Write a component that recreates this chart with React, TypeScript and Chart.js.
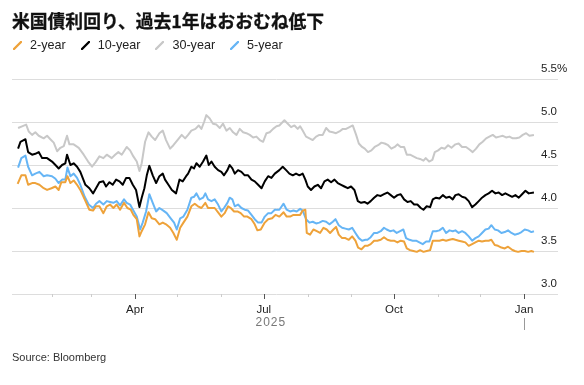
import React, { useEffect, useRef } from 'react';
import { Chart, registerables } from 'chart.js';

Chart.register(...registerables);

const titleText = '米国債利回り、過去1年はおおむね低下';
const sourceText = 'Source: Bloomberg';
const yearLabel = '2025';

const seriesNames = ['2-year', '10-year', '30-year', '5-year'];
const seriesColors = ['#EEA23A', '#000000', '#C8C8C8', '#66B5F5'];

// x axis: days since 2025-01-01
const monthTickDays = [31, 59, 90, 120, 151, 181, 212, 243, 273, 304, 334, 365];
const monthTickLabels = ['', '', 'Apr', '', '', 'Jul', '', '', 'Oct', '', '', 'Jan'];
const yearEndDay = 365;
const yTickValues = [3.0, 3.5, 4.0, 4.5, 5.0, 5.5];

const twoYearDays = [7, 9.6, 12.5, 14.4, 17.2, 19.5, 22.4, 25.4, 27.8, 30.9, 33.7, 36, 37.9, 40.7, 42.2, 44.3, 46.6, 49, 51.3, 54.4, 57.7, 60.3, 62.4, 64.8,
  67.6, 70, 72.3, 74.7, 77, 79.4, 82.2, 84.6, 87, 88.8, 91.2, 93.1, 94.7, 97.1, 99.5, 101.8, 104.2, 107.2, 109.6, 111.9, 114.8, 117.1, 119.5, 121.9, 124.2, 127,
  129.8, 132.2, 134.5, 136.9, 139.7, 141.6, 144, 146.3, 148.7, 151, 153.4, 155.8, 157.7, 160, 162.4, 164.7, 167.1, 169.4, 172.3, 174.6, 176.5, 178.9, 181.7, 184.1, 186.9, 189.3,
  192, 195, 197.2, 199.6, 202, 204.3, 206.7, 208.5, 210.4, 211.4, 213.7, 216.1, 218.5, 220.8, 223.2, 225.5, 227.9, 230.2, 232.1, 234, 236.4, 238.7, 241.1, 243.5, 245.8, 247.7, 250.1, 252.4,
  254.3, 256.6, 259, 261.3, 263.7, 266, 268.4, 270.8, 273.1, 275.5, 277.8, 280.2, 282.1, 284.4, 286.8, 289.2, 291.5, 293.9, 296.2, 298.6, 300.5, 302.8, 305.2, 307.6, 309.9, 312.3, 314.6,
  316.5, 318.8, 321.2, 323.5, 325.9, 328.3, 330.6, 333, 335.3, 337.7, 340, 341.9, 344.3, 346.6, 349, 351.4, 353.7, 356.1, 358.4, 360.8, 363.2, 365.5, 367.9, 370.2, 372];
const twoYearVals = [4.28, 4.38, 4.38, 4.27, 4.29, 4.29, 4.27, 4.23, 4.21, 4.23, 4.25, 4.21, 4.30, 4.30, 4.37, 4.29, 4.32, 4.27, 4.21, 4.10, 3.98, 3.97, 4.02, 4.02,
  3.94, 4.02, 4.04, 4.00, 4.04, 3.98, 4.06, 4.00, 3.98, 3.92, 3.87, 3.67, 3.73, 3.81, 3.95, 3.88, 3.87, 3.81, 3.83, 3.81, 3.77, 3.71, 3.63, 3.77, 3.83, 3.90,
  4.02, 4.05, 4.02, 4.00, 4.06, 4.00, 4.00, 4.00, 3.95, 3.90, 3.94, 4.02, 4.00, 3.96, 3.96, 3.94, 3.90, 3.90, 3.87, 3.81, 3.74, 3.75, 3.83, 3.87, 3.88, 3.92,
  3.90, 3.95, 3.90, 3.90, 3.92, 3.92, 3.92, 3.97, 3.98, 3.71, 3.69, 3.75, 3.73, 3.71, 3.77, 3.75, 3.71, 3.75, 3.78, 3.69, 3.65, 3.65, 3.63, 3.67, 3.62, 3.54, 3.52, 3.56,
  3.56, 3.58, 3.62, 3.62, 3.63, 3.66, 3.63, 3.62, 3.62, 3.60, 3.62, 3.61, 3.53, 3.51, 3.50, 3.49, 3.51, 3.49, 3.50, 3.51, 3.62, 3.62, 3.62, 3.63, 3.62, 3.63, 3.64,
  3.63, 3.62, 3.61, 3.60, 3.56, 3.58, 3.60, 3.62, 3.61, 3.62, 3.62, 3.63, 3.57, 3.56, 3.54, 3.53, 3.55, 3.52, 3.50, 3.49, 3.50, 3.50, 3.49, 3.50, 3.49];

const tenYearDays = [7.3, 9, 12.5, 14.4, 17.2, 19.5, 21.9, 24.3, 27.8, 31.3, 33.7, 36, 38.4, 40.7, 41.9, 44.3, 46.6, 49, 51.3, 54.9, 57.7, 60.3, 62.4, 64.8,
  67.6, 69.5, 71.9, 74.2, 76.6, 79, 81.3, 83.7, 86, 88.4, 90.7, 93.1, 94.7, 96.6, 98.3, 100.1, 102.5, 104.9, 107.2, 109.6, 111.2, 113.6, 116, 119, 121.4, 123.7, 126.1,
  127.5, 129.8, 131.7, 133.4, 135.7, 138.1, 140.4, 142.1, 144, 146.3, 148.7, 151, 152.9, 155.3, 156.9, 158.8, 160.5, 162.8, 165.2, 167.5, 169.9, 172.3, 174.6, 177, 179.4, 181.7, 184.1, 186.4, 188.8,
  192, 194.4, 196.8, 199.1, 201.5, 203.8, 206.2, 208.5, 210.4, 212.1, 214.4, 216.8, 219.2, 221.5, 223.9, 226.2, 228.6, 231, 233.3, 235.7, 238, 240.4, 242.7, 245.1, 247.5, 249.8, 252.2,
  254.3, 256.6, 259, 261.3, 263.7, 266, 268.4, 270.8, 273.1, 275.5, 277.8, 280.2, 282.6, 284.9, 287.3, 289.6, 292, 293.9, 296.2, 298.6, 300.5, 302.8, 305.2, 307.6, 309.9, 312.3, 314.6,
  316.5, 318.8, 321.2, 323.5, 325.9, 328.3, 330.6, 333, 335.3, 337.7, 340, 342.4, 344.8, 347.1, 349.5, 351.8, 354.2, 356.6, 358.9, 361.3, 363.6, 366, 368.3, 372];
const tenYearVals = [4.69, 4.77, 4.80, 4.65, 4.62, 4.63, 4.65, 4.58, 4.58, 4.54, 4.50, 4.46, 4.50, 4.52, 4.62, 4.50, 4.52, 4.48, 4.42, 4.27, 4.23, 4.17, 4.23, 4.30,
  4.31, 4.25, 4.30, 4.27, 4.33, 4.31, 4.27, 4.35, 4.35, 4.27, 4.21, 4.01, 4.12, 4.23, 4.38, 4.49, 4.38, 4.29, 4.37, 4.40, 4.33, 4.27, 4.21, 4.17, 4.33, 4.31, 4.37,
  4.40, 4.48, 4.46, 4.52, 4.48, 4.54, 4.61, 4.50, 4.54, 4.48, 4.44, 4.42, 4.38, 4.44, 4.50, 4.46, 4.40, 4.44, 4.42, 4.38, 4.38, 4.33, 4.31, 4.27, 4.23, 4.31, 4.37, 4.35, 4.40,
  4.44, 4.48, 4.44, 4.40, 4.38, 4.40, 4.38, 4.40, 4.33, 4.25, 4.21, 4.25, 4.27, 4.23, 4.31, 4.33, 4.30, 4.33, 4.29, 4.27, 4.25, 4.23, 4.25, 4.21, 4.08, 4.06, 4.07,
  4.05, 4.08, 4.12, 4.15, 4.14, 4.16, 4.18, 4.15, 4.12, 4.15, 4.16, 4.10, 4.07, 4.08, 4.04, 4.04, 4.00, 3.98, 4.02, 4.01, 4.10, 4.12, 4.11, 4.15, 4.12, 4.13, 4.10,
  4.15, 4.16, 4.13, 4.12, 4.08, 4.01, 4.04, 4.08, 4.12, 4.15, 4.17, 4.20, 4.17, 4.18, 4.15, 4.17, 4.15, 4.13, 4.15, 4.12, 4.16, 4.20, 4.17, 4.18];

const thirtyYearDays = [7.3, 10.1, 13, 14.8, 17.2, 19.5, 21.9, 25.4, 27.8, 30.1, 32.5, 34.9, 37.2, 39.6, 41.9, 43.6, 46.6, 50.2, 53.7, 56.8, 59.6, 62, 64.8,
  67.6, 70, 73.5, 75.9, 78.2, 80.6, 84.1, 86.5, 88.8, 91.2, 93.1, 94.7, 97.1, 99.5, 101.8, 104.2, 107.2, 109.6, 111.9, 114.8, 117.1, 120, 123, 125.4,
  127.5, 129.8, 132.7, 135, 136.9, 138.8, 140.4, 142.8, 145.1, 147.5, 149.9, 152.2, 154.6, 157, 159.3, 161.7, 164, 166.4, 168.7, 171.1, 173.5, 175.8, 178.2, 180.5, 182.9, 185.2, 187.6, 190,
  192, 195.6, 198, 200.3, 202.7, 205, 206.7, 208.5, 210.9, 213.3, 215.6, 218, 220.3, 222.7, 225.1, 227.4, 229.8, 232.1, 234.5, 236.9, 239.2, 241.6, 243.9, 246.3, 248.2, 250.5, 252.4,
  254.7, 257.1, 259.4, 261.8, 264.2, 266.5, 268.9, 271.2, 273.6, 275.5, 277.8, 280.2, 282.1, 284.4, 286.8, 289.2, 291.5, 293.9, 295.5, 297.9, 300.2, 301.9, 304.3, 306.6, 309, 311.3, 313.7,
  316.5, 318.8, 321.2, 324, 326.4, 328.7, 331.1, 333.4, 335.8, 338.2, 340.5, 342.9, 345.2, 347.6, 350, 352.3, 354.7, 357, 359.4, 361.7, 364.1, 366.5, 368.8, 372];
const thirtyYearVals = [4.93, 4.95, 4.97, 4.89, 4.85, 4.88, 4.84, 4.81, 4.84, 4.80, 4.76, 4.66, 4.70, 4.72, 4.84, 4.74, 4.74, 4.70, 4.62, 4.54, 4.48, 4.53, 4.60,
  4.58, 4.62, 4.58, 4.62, 4.65, 4.62, 4.71, 4.67, 4.60, 4.54, 4.43, 4.52, 4.77, 4.88, 4.83, 4.79, 4.87, 4.90, 4.79, 4.69, 4.73, 4.79, 4.85, 4.81,
  4.85, 4.90, 4.92, 4.96, 4.92, 5.00, 5.08, 5.04, 4.98, 4.97, 4.93, 4.98, 4.90, 4.93, 4.88, 4.85, 4.92, 4.88, 4.87, 4.85, 4.82, 4.83, 4.79, 4.77, 4.87, 4.88, 4.92, 4.95,
  4.96, 5.02, 4.98, 4.94, 4.96, 4.92, 4.95, 4.90, 4.83, 4.81, 4.79, 4.83, 4.85, 4.85, 4.93, 4.89, 4.88, 4.87, 4.89, 4.92, 4.92, 4.94, 4.96, 4.85, 4.75, 4.71, 4.69,
  4.65, 4.67, 4.71, 4.73, 4.76, 4.75, 4.73, 4.69, 4.71, 4.74, 4.71, 4.71, 4.62, 4.62, 4.60, 4.58, 4.57, 4.55, 4.58, 4.54, 4.56, 4.65, 4.67, 4.70, 4.69, 4.73, 4.70,
  4.74, 4.75, 4.71, 4.71, 4.68, 4.65, 4.69, 4.74, 4.77, 4.81, 4.83, 4.85, 4.82, 4.83, 4.84, 4.82, 4.83, 4.81, 4.81, 4.82, 4.85, 4.87, 4.84, 4.85];

const fiveYearDays = [7.3, 9.6, 12.5, 14.4, 17.2, 19.5, 22.4, 25.4, 27.8, 31.3, 33.7, 36, 38.4, 40.7, 42.2, 44.3, 46.6, 49, 51.3, 54.4, 57.2, 60.3, 62.4, 64.8,
  67.6, 70, 72.3, 74.7, 77, 79.4, 82.2, 84.1, 86.5, 88.8, 91.2, 93.6, 95.4, 97.8, 100.1, 102.5, 104.9, 107.2, 110, 112.4, 115.2, 117.6, 119.5, 121.9, 124.2, 127,
  129.8, 131.7, 133.4, 135.7, 138.1, 139.7, 141.6, 144, 146.3, 148.7, 151, 152.9, 155.3, 156.9, 158.8, 160.5, 162.8, 165.2, 167.5, 169.9, 172.3, 174.6, 177, 179.4, 181.7, 184.1, 186.4, 188.8,
  192, 195, 197.2, 199.6, 202, 204.3, 206.7, 208.5, 210.9, 213.3, 215.6, 218, 220.3, 222.7, 225.1, 227.4, 229.8, 231.7, 234, 236.4, 238.7, 241.1, 243.5, 245.8, 248.2, 250.5, 252.9,
  254.3, 256.6, 259, 261.3, 263.7, 266, 267.9, 270.3, 272.7, 275, 277.4, 279.7, 281.6, 284, 286.3, 288.7, 291, 293.4, 295.8, 298.1, 300.5, 302.8, 305.2, 307.6, 309.9, 312.3, 314.6,
  316.5, 318.8, 321.2, 323.5, 325.9, 328.3, 330.6, 333, 335.3, 337.7, 340, 341.9, 344.3, 346.6, 349, 351.4, 353.7, 356.1, 358.4, 360.8, 363.2, 365.5, 367.9, 370.2, 372];
const fiveYearVals = [4.47, 4.58, 4.61, 4.48, 4.38, 4.40, 4.42, 4.37, 4.38, 4.37, 4.34, 4.29, 4.33, 4.33, 4.47, 4.37, 4.40, 4.35, 4.27, 4.13, 4.04, 4.00, 4.05, 4.08,
  4.04, 4.08, 4.07, 4.06, 4.08, 4.03, 4.10, 4.06, 4.04, 3.97, 3.90, 3.75, 3.83, 3.96, 4.16, 4.06, 3.96, 4.00, 3.97, 3.94, 3.88, 3.83, 3.75, 3.88, 3.90, 3.98,
  4.12, 4.13, 4.17, 4.10, 4.12, 4.17, 4.10, 4.08, 4.10, 4.04, 3.96, 4.00, 4.06, 4.12, 4.10, 4.02, 4.04, 4.00, 3.98, 3.97, 3.92, 3.87, 3.83, 3.83, 3.90, 3.94, 3.94, 3.98,
  3.98, 4.05, 3.98, 3.96, 3.97, 3.96, 3.99, 3.97, 3.87, 3.83, 3.84, 3.82, 3.83, 3.85, 3.84, 3.81, 3.84, 3.87, 3.80, 3.77, 3.76, 3.75, 3.77, 3.71, 3.65, 3.62, 3.63,
  3.63, 3.66, 3.71, 3.71, 3.73, 3.77, 3.75, 3.73, 3.74, 3.71, 3.73, 3.75, 3.65, 3.63, 3.62, 3.62, 3.60, 3.58, 3.61, 3.61, 3.73, 3.73, 3.74, 3.77, 3.71, 3.74, 3.73,
  3.74, 3.71, 3.73, 3.71, 3.67, 3.62, 3.65, 3.67, 3.71, 3.75, 3.76, 3.80, 3.75, 3.74, 3.71, 3.72, 3.74, 3.71, 3.69, 3.70, 3.72, 3.75, 3.74, 3.72, 3.73];

const toPoints = (days: number[], vals: number[]) => days.map((d, i) => ({ x: d, y: vals[i] }));

const FONT = '"Liberation Sans", Arial, sans-serif';

const axisDecor = {
  id: 'axisDecor',
  afterDraw(chart: any) {
    const { ctx, chartArea, scales } = chart;
    const xs = scales.x;
    ctx.save();
    xs.ticks.forEach((t: any, i: number) => {
      const px = Math.round(xs.getPixelForValue(t.value)) + 0.5;
      const major = monthTickLabels[i] !== '';
      ctx.strokeStyle = major ? '#555555' : '#cccccc';
      ctx.lineWidth = 1;
      ctx.beginPath();
      ctx.moveTo(px, chartArea.bottom);
      ctx.lineTo(px, chartArea.bottom + (major ? 5 : 3));
      ctx.stroke();
    });
    const firstDay = twoYearDays[0];
    const mid = (xs.getPixelForValue(firstDay) + xs.getPixelForValue(yearEndDay)) / 2;
    ctx.fillStyle = '#777777';
    ctx.font = '12px ' + FONT;
    (ctx as any).letterSpacing = '1px';
    ctx.textAlign = 'center';
    ctx.textBaseline = 'middle';
    ctx.fillText(yearLabel, mid, chartArea.bottom + 29);
    (ctx as any).letterSpacing = '0px';
    const sx = Math.round(xs.getPixelForValue(yearEndDay)) + 0.5;
    ctx.strokeStyle = '#999999';
    ctx.beginPath();
    ctx.moveTo(sx, chartArea.bottom + 24);
    ctx.lineTo(sx, chartArea.bottom + 36);
    ctx.stroke();
    ctx.restore();
  },
};

function LegendIcon({ color }: { color: string }) {
  return (
    <svg width={9} height={9} style={{ display: 'block', marginRight: 8 }}>
      <line x1={1} y1={8} x2={8} y2={1} stroke={color} strokeWidth={2.4} strokeLinecap="round" />
    </svg>
  );
}

export default function App() {
  const canvasRef = useRef<HTMLCanvasElement | null>(null);

  useEffect(() => {
    if (!canvasRef.current) return;
    const datasets = [
      { label: seriesNames[0], data: toPoints(twoYearDays, twoYearVals), borderColor: seriesColors[0], order: 1 },
      { label: seriesNames[3], data: toPoints(fiveYearDays, fiveYearVals), borderColor: seriesColors[3], order: 2 },
      { label: seriesNames[1], data: toPoints(tenYearDays, tenYearVals), borderColor: seriesColors[1], order: 3 },
      { label: seriesNames[2], data: toPoints(thirtyYearDays, thirtyYearVals), borderColor: seriesColors[2], order: 4 },
    ].map((d) => ({ ...d, borderWidth: 2, pointRadius: 0, tension: 0, fill: false, borderJoinStyle: 'round' as const }));

    const chart = new Chart(canvasRef.current, {
      type: 'line',
      data: { datasets },
      options: {
        animation: false,
        responsive: false,
        devicePixelRatio: 1,
        layout: { padding: { left: 12, right: 0, top: 79, bottom: 61 } },
        plugins: { legend: { display: false }, tooltip: { enabled: false }, title: { display: false } },
        scales: {
          x: {
            type: 'linear',
            min: 3,
            max: 377,
            grid: { display: false, drawTicks: false },
            border: { display: false },
            afterBuildTicks: (s: any) => {
              s.ticks = monthTickDays.map((v) => ({ value: v }));
            },
            afterFit: (s: any) => {
              s.height = 30;
            },
            ticks: {
              autoSkip: false,
              maxRotation: 0,
              padding: 9,
              color: '#222222',
              font: { family: FONT, size: 11.5 },
              callback: (_v: any, i: number) => monthTickLabels[i],
            },
          },
          y: {
            position: 'right',
            min: 3.0,
            max: 5.5,
            grid: { color: '#dddddd', lineWidth: 1, drawTicks: true, tickLength: 17 },
            border: { display: false },
            afterBuildTicks: (s: any) => {
              s.ticks = yTickValues.map((v) => ({ value: v }));
            },
            afterFit: (s: any) => {
              s.width = 43;
            },
            ticks: {
              padding: -17,
              labelOffset: -10,
              color: '#222222',
              font: { family: FONT, size: 11.5 },
              callback: (v: any) => (Number(v) === 5.5 ? '5.5%' : Number(v).toFixed(1)),
            },
          },
        },
      },
      plugins: [axisDecor],
    });
    return () => chart.destroy();
  }, []);

  const legendItems = seriesNames.map((n, i) => (
    <div key={n} style={{ display: 'flex', alignItems: 'center', marginRight: 15 }}>
      <LegendIcon color={seriesColors[i]} />
      <span>{n}</span>
    </div>
  ));

  return (
    <div style={{ position: 'fixed', left: 0, top: 0, width: 584, height: 385, background: '#ffffff', overflow: 'hidden' }}>
      <canvas ref={canvasRef} width={584} height={385} style={{ position: 'absolute', left: 0, top: 0, width: 584, height: 385 }} />
      <div style={{ position: 'absolute', left: 12, top: 8, fontFamily: '"Noto Sans CJK JP", sans-serif', fontWeight: 700, fontSize: 17.8, lineHeight: '25px', color: '#111111', whiteSpace: 'nowrap', WebkitTextStroke: '0.3px #111111' }}>
        {titleText}
      </div>
      <div style={{ position: 'absolute', left: 13, top: 37, height: 16, display: 'flex', alignItems: 'center', fontFamily: FONT, fontSize: 12.6, color: '#222222', whiteSpace: 'nowrap' }}>
        {legendItems}
      </div>
      <div style={{ position: 'absolute', left: 12, top: 350, fontFamily: FONT, fontSize: 11, lineHeight: '15px', color: '#333333', whiteSpace: 'nowrap' }}>
        {sourceText}
      </div>
    </div>
  );
}
